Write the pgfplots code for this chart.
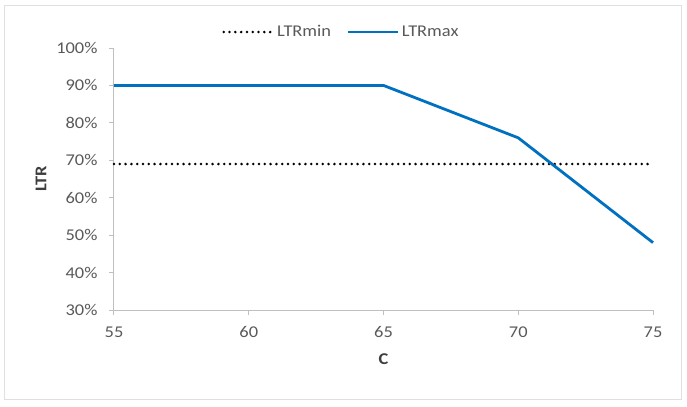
\documentclass[border=0pt]{standalone}
\usepackage{pgfplots}
\pgfplotsset{compat=1.18}
\usepackage{fontspec}
\setmainfont{Carlito}[FakeStretch=1.12]
\definecolor{axgray}{HTML}{BFBFBF}
\definecolor{txtgray}{HTML}{595959}
\definecolor{lineblue}{HTML}{0070C0}
\begin{document}
\begin{tikzpicture}[x=1bp,y=1bp]
\useasboundingbox (-114,-96) rectangle (573,310);
\draw[draw=black!12, line width=1bp] (-109,-89) rectangle (567,305);
\begin{axis}[
  scale only axis, width=539bp, height=262bp,
  xmin=55, xmax=75, ymin=30, ymax=100,
  xtick={55,60,65,70,75}, ytick={30,40,...,100},
  yticklabel={\pgfmathprintnumber{\tick}\%},
  /pgf/number format/assume math mode=true,
  axis x line*=bottom, axis y line*=left,
  axis line style={axgray, line width=1bp},
  tick style={axgray, line width=1bp},
  tick align=outside, major tick length=5bp,
  ticklabel style={font=\fontsize{16.5}{18}\selectfont, text=txtgray},
  xticklabel style={yshift=-8bp},
  yticklabel style={xshift=-8bp},
  xlabel={\textbf{C}}, ylabel={\textbf{LTR}},
  label style={font=\fontsize{16.5}{18}\selectfont, text=txtgray!70!black},
  xlabel style={yshift=-9bp},
  ylabel style={yshift=3bp},
  legend style={draw=none, fill=none, at={(0.422,1.061)}, anchor=center,
    font=\fontsize{16.5}{18}\selectfont, text=txtgray, legend columns=2,
    /tikz/every even column/.append style={column sep=14bp}},
  legend image code/.code={\draw[#1] (0bp,0bp) -- (50bp,0bp);},
  clip=false,
]
\addplot[black, line width=2.8bp, line cap=round, dash pattern=on 0bp off 5.8bp] coordinates {(55,69) (75,69)};
\addlegendentry{LTRmin}
\addplot[lineblue, line width=2.8bp] coordinates {(55,90) (65,90) (70,76) (75,48)};
\addlegendentry{LTRmax}
\end{axis}
\end{tikzpicture}
\end{document}
